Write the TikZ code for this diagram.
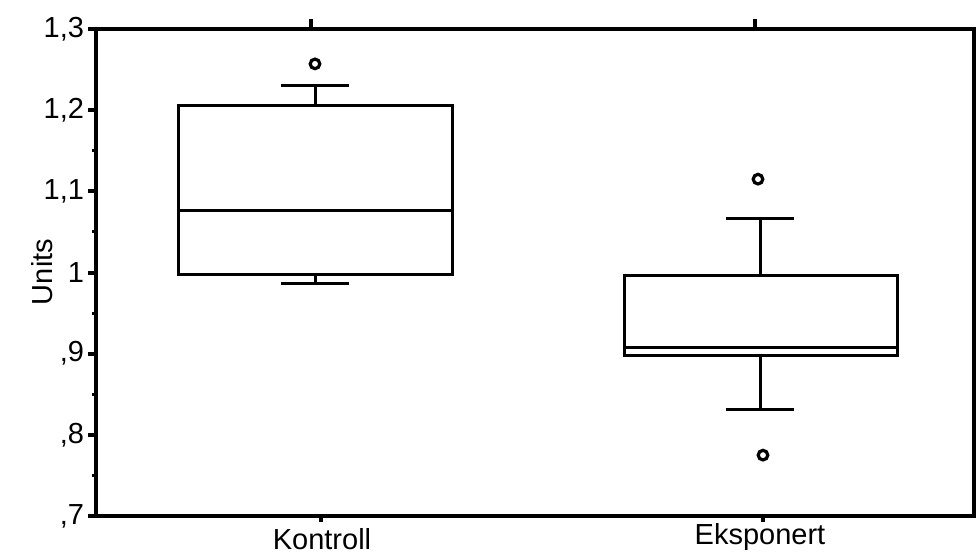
\documentclass[tikz,border=0pt]{standalone}
\usepackage{fontspec}
\setmainfont{Liberation Sans}
\usepackage{tikz}

\begin{document}
\begin{tikzpicture}[x=0.5pt, y=0.5pt,
		framestyle/.style={line width=2pt},
		boxstyle/.style={line width=1.5pt},
		outlier/.style={line width=1.6pt},
		ticklabel/.style={left, inner sep=1pt, font=\fontsize{14.5}{16}\selectfont},
		grouplabel/.style={font=\fontsize{14.5}{16}\selectfont}]
		\useasboundingbox (0,0) rectangle (976,553);

		\def\xl{96}
		\def\xr{974}
		\def\capw{34}

		% data scope: y in units
		\begin{scope}[y=405.85pt, yshift=-265.6pt]
			\draw[framestyle] (\xl,0.7) rectangle (\xr,1.3);

			\foreach \v/\lab in {0.7/{,7}, 0.8/{,8}, 0.9/{,9}, 1.0/1, 1.1/{1,1}, 1.2/{1,2}, 1.3/{1,3}} {
				\draw[framestyle] (\xl,\v) -- ++(-8,0) node[ticklabel] {\lab};
			}
			\foreach \v in {0.75, 0.85, ..., 1.25} {
				\draw[line width=1.5pt] (\xl,\v) -- ++(-4,0);
			}

			\foreach \cx/\bl/\br/\qa/\qb/\md/\wl/\wh in {315/178/452/0.997/1.206/1.077/0.986/1.230, 760/624/897/0.898/0.996/0.907/0.831/1.066} {
				\draw[boxstyle] (\bl,\qa) rectangle (\br,\qb);
				\draw[boxstyle] (\bl,\md) -- (\br,\md);
				\draw[boxstyle] (\cx,\qb) -- (\cx,\wh);
				\draw[boxstyle] (\cx-\capw,\wh) -- (\cx+\capw,\wh);
				\draw[boxstyle] (\cx,\qa) -- (\cx,\wl);
				\draw[boxstyle] (\cx-\capw,\wl) -- (\cx+\capw,\wl);
			}

			\foreach \ox/\ov in {315/1.257, 758/1.115, 763/0.775} {
				\draw[outlier] (\ox,\ov) circle (2.4pt);
			}

			% group ticks
			\draw[framestyle] (311,1.3) -- ++(0pt,5pt);
			\draw[framestyle] (755,1.3) -- ++(0pt,5pt);
			\draw[framestyle] (321,0.7) -- ++(0pt,-3pt);
			\draw[framestyle] (763,0.7) -- ++(0pt,-3pt);
		\end{scope}

		\node[grouplabel] (kontroll) at (322,14) {Kontroll};
		\node[grouplabel] (eksponert) at (760,16) {Eksponert};
		\node[grouplabel, rotate=90] (units) at (42,281) {Units};
	\end{tikzpicture}
\end{document}
